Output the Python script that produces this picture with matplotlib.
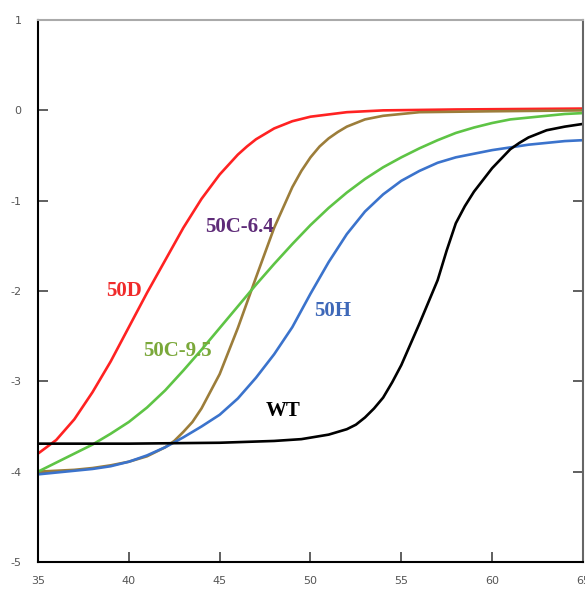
import numpy as np
import matplotlib
matplotlib.use("Agg")
import matplotlib.pyplot as plt

plt.rcParams["axes.unicode_minus"] = False

# melting curves
x_50d = [35, 36, 37, 38, 39, 40, 41, 42, 43, 44, 45, 46, 46.5, 47, 47.5, 48, 48.5, 49, 50,
         52, 54, 58, 65]
y_50d = [-3.80, -3.65, -3.42, -3.12, -2.78, -2.40, -2.02, -1.66, -1.30, -0.98, -0.71,
         -0.49, -0.40, -0.32, -0.26, -0.20, -0.16, -0.12, -0.07, -0.02, 0.0, 0.01, 0.02]

x_c64 = [35, 36, 37, 38, 39, 40, 41, 42, 42.5, 43, 43.5, 44, 45, 46, 47, 48, 49, 49.5,
         50, 50.5, 51, 51.5, 52, 53, 54, 56, 60, 65]
y_c64 = [-4.0, -3.99, -3.98, -3.96, -3.93, -3.89, -3.83, -3.73, -3.66, -3.56, -3.45,
         -3.30, -2.92, -2.41, -1.85, -1.30, -0.85, -0.67, -0.52, -0.40, -0.31, -0.24,
         -0.18, -0.10, -0.06, -0.02, -0.01, 0.0]

x_full = list(range(35, 66))
y_c95 = [-4.0, -3.90, -3.80, -3.70, -3.58, -3.45, -3.29, -3.10, -2.88, -2.65, -2.41,
         -2.17, -1.93, -1.70, -1.48, -1.27, -1.08, -0.91, -0.76, -0.63, -0.52,
         -0.42, -0.33, -0.25, -0.19, -0.14, -0.10, -0.08, -0.06, -0.04, -0.03]
y_50h = [-4.03, -4.01, -3.99, -3.97, -3.94, -3.89, -3.82, -3.73, -3.62, -3.50, -3.37,
         -3.19, -2.96, -2.70, -2.40, -2.03, -1.68, -1.37, -1.12, -0.93, -0.78,
         -0.67, -0.58, -0.52, -0.48, -0.44, -0.41, -0.38, -0.36, -0.34, -0.33]

x_wt = [35, 40, 45, 48, 49.5, 51, 52, 52.5, 53, 53.5, 54, 54.5, 55, 56, 57, 57.5, 58,
        58.5, 59, 60, 61, 61.5, 62, 62.5, 63, 64, 65]
y_wt = [-3.69, -3.69, -3.68, -3.66, -3.64, -3.59, -3.53, -3.48, -3.40, -3.30, -3.18,
        -3.01, -2.82, -2.36, -1.88, -1.55, -1.25, -1.06, -0.90, -0.64, -0.43, -0.36,
        -0.30, -0.26, -0.22, -0.18, -0.15]

labels = ["50D", "50C-6.4", "50C-9.5", "50H", "WT"]
label_pos = [(39.75, -2.0), (46.1, -1.29), (42.7, -2.66), (51.2, -2.22), (48.5, -3.33)]
label_col = ["#f02a2a", "#5e2b78", "#7aa83a", "#3e68b8", "black"]

xticks = [35, 40, 45, 50, 55, 60, 65]
yticks = [1, 0, -1, -2, -3, -4, -5]

fig = plt.figure(figsize=(5.85, 5.90), dpi=100)
ax = fig.add_axes([0.065, 0.0475, 0.9315, 0.9185])

lw = 1.9
kw = dict(lw=lw, solid_joinstyle="round", solid_capstyle="butt")
ax.plot(x_50d, y_50d, color="#ff2222", **kw)
ax.plot(x_c64, y_c64, color="#9c7d3a", **kw)
ax.plot(x_full, y_c95, color="#5ec445", **kw)
ax.plot(x_full, y_50h, color="#3b73cc", **kw)
ax.plot(x_wt, y_wt, color="black", **kw)

for t, (px, py), c in zip(labels, label_pos, label_col):
    ax.text(px, py, t, color=c, fontsize=15, fontweight="bold",
            family="Liberation Serif", ha="center", va="center")

ax.set_xlim(35, 65)
ax.set_ylim(-5, 1)
ax.set_xticks(xticks)
ax.set_yticks(yticks)
ax.tick_params(axis="both", direction="in", length=7, width=1.2,
               labelsize=8, labelcolor="#555555", color="#444444")
ax.tick_params(axis="y", right=True, pad=12)
ax.tick_params(axis="x", pad=10)

ax.spines["left"].set_linewidth(1.5)
ax.spines["bottom"].set_linewidth(1.5)
ax.spines["top"].set_color("#aaaaaa")
ax.spines["top"].set_linewidth(1.5)
ax.spines["right"].set_color("#666666")
ax.spines["right"].set_linewidth(1.5)

fig.savefig("out.png", dpi=100)
